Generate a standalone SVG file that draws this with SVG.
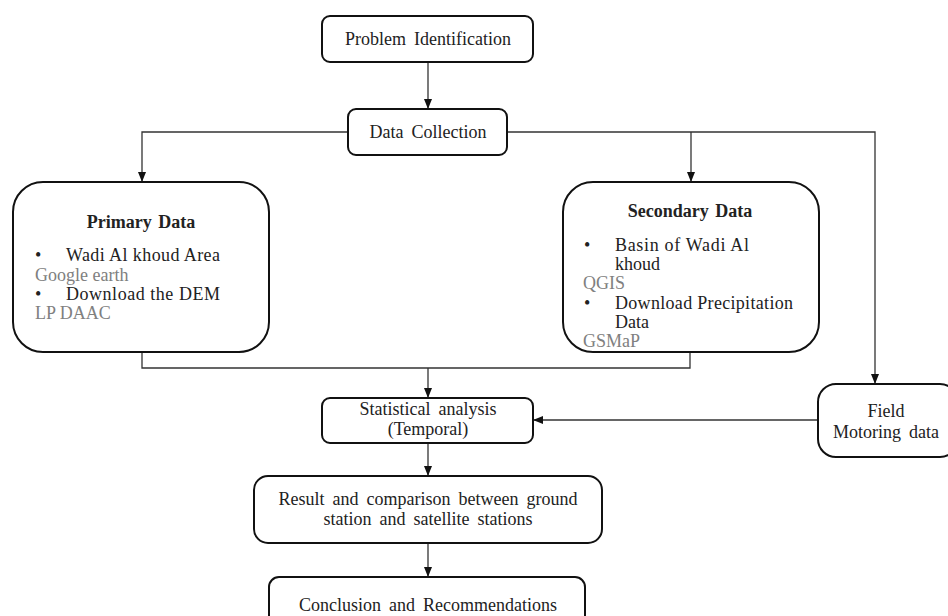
<svg xmlns="http://www.w3.org/2000/svg" width="948" height="616" viewBox="0 0 948 616">
<style>
.box{fill:#fff;stroke:#111;stroke-width:2}
.t{font-family:"Liberation Serif","Times New Roman",serif;font-size:18px;fill:#222}
.c{text-anchor:middle;word-spacing:3.5px}
.b{font-weight:bold;word-spacing:2px}
.g{fill:#808080}
.conn{fill:none;stroke:#333;stroke-width:1.3}
</style>
<defs>
<marker id="ah" markerUnits="userSpaceOnUse" markerWidth="10" markerHeight="10" viewBox="0 0 10 10" refX="10" refY="5" orient="auto">
<path d="M0,1 L10,5 L0,9 Z" fill="#111"/>
</marker>
</defs>
<rect width="948" height="616" fill="#fff"/>
<g id="connectors">
<path class="conn" d="M428,62 V109" marker-end="url(#ah)"/>
<path class="conn" d="M348,132 H142 V182" marker-end="url(#ah)"/>
<path class="conn" d="M507,132 H875 V384" marker-end="url(#ah)"/>
<path class="conn" d="M691,132 V182" marker-end="url(#ah)"/>
<path class="conn" d="M142,352 V368 H690 V352"/>
<path class="conn" d="M428,368 V398" marker-end="url(#ah)"/>
<path class="conn" d="M818,420 H533" marker-end="url(#ah)"/>
<path class="conn" d="M428,443 V476" marker-end="url(#ah)"/>
<path class="conn" d="M428,543 V577" marker-end="url(#ah)"/>
</g>
<g id="problem">
<rect class="box" x="322" y="16" width="211" height="46" rx="8"/>
<text class="t c" x="428" y="45">Problem Identification</text>
</g>
<g id="datacollection">
<rect class="box" x="348" y="109" width="159" height="46" rx="8"/>
<text class="t c" x="428" y="138">Data Collection</text>
</g>
<g id="primary">
<rect class="box" x="13" y="182" width="256" height="170" rx="30"/>
<text class="t c b" x="141" y="228">Primary Data</text>
<text class="t" x="35" y="261">•</text>
<text class="t" x="66" y="261" textLength="154">Wadi Al khoud Area</text>
<text class="t g" x="35" y="281">Google earth</text>
<text class="t" x="35" y="300">•</text>
<text class="t" x="66" y="300" textLength="154">Download the DEM</text>
<text class="t g" x="35" y="319">LP DAAC</text>
</g>
<g id="secondary">
<rect class="box" x="563" y="182" width="256" height="170" rx="30"/>
<text class="t c b" x="690" y="217">Secondary Data</text>
<text class="t" x="584" y="251">•</text>
<text class="t" x="615" y="251" textLength="134">Basin of Wadi Al</text>
<text class="t" x="615" y="270">khoud</text>
<text class="t g" x="583" y="289">QGIS</text>
<text class="t" x="584" y="309">•</text>
<text class="t" x="615" y="309" textLength="178">Download Precipitation</text>
<text class="t" x="615" y="328">Data</text>
<text class="t g" x="583" y="347">GSMaP</text>
</g>
<g id="field">
<rect class="box" x="818" y="384" width="140" height="73" rx="18"/>
<text class="t c" x="886" y="417">Field</text>
<text class="t c" x="886" y="438">Motoring data</text>
</g>
<g id="statistical">
<rect class="box" x="322" y="398" width="211" height="45" rx="8"/>
<text class="t c" x="428" y="415">Statistical analysis</text>
<text class="t c" x="428" y="435">(Temporal)</text>
</g>
<g id="result">
<rect class="box" x="254" y="476" width="348" height="67" rx="14"/>
<text class="t c" x="428" y="505">Result and comparison between ground</text>
<text class="t c" x="428" y="525">station and satellite stations</text>
</g>
<g id="conclusion">
<rect class="box" x="269" y="577" width="316" height="60" rx="10"/>
<text class="t c" x="428" y="611">Conclusion and Recommendations</text>
</g>
</svg>
